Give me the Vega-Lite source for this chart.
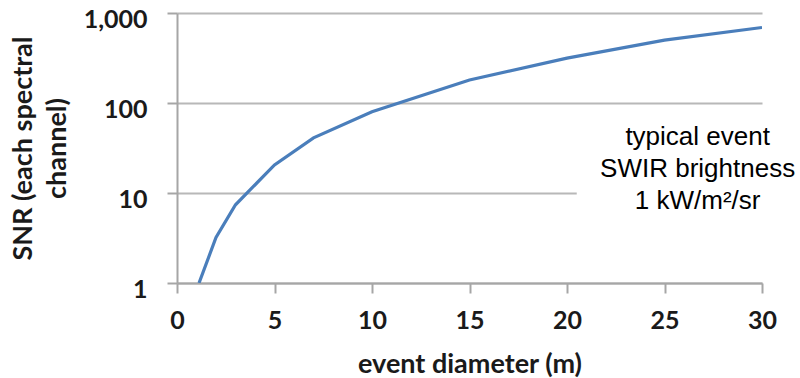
{
  "$schema": "https://vega.github.io/schema/vega-lite/v6.json",
  "autosize": "none",
  "width": 585,
  "height": 270,
  "padding": {"left": 177, "top": 13, "right": 38, "bottom": 95},
  "background": "white",
  "config": {
    "view": {"stroke": null},
    "axis": {
      "labelFont": "Lato",
      "labelFontWeight": "bold",
      "labelFontSize": 25,
      "labelColor": "#1a1a1a",
      "labelFlush": false,
      "titleFont": "Lato",
      "titleFontWeight": "bold",
      "titleFontSize": 27,
      "titleColor": "#1a1a1a",
      "domainColor": "#a6a6a6",
      "domainWidth": 2,
      "tickColor": "#a6a6a6",
      "tickWidth": 2,
      "tickSize": 10,
      "gridColor": "#b8b8b8",
      "gridWidth": 2
    }
  },
  "layer": [
    {
      "data": {"values": [
        {"d": 1.13, "snr": 1},
        {"d": 2, "snr": 3.2},
        {"d": 3, "snr": 7.4},
        {"d": 5, "snr": 20.5},
        {"d": 7, "snr": 41},
        {"d": 10, "snr": 80},
        {"d": 15, "snr": 180},
        {"d": 20, "snr": 315},
        {"d": 25, "snr": 500},
        {"d": 30, "snr": 690}
      ]},
      "mark": {"type": "line", "color": "#4a7ebb", "strokeWidth": 3.2, "clip": true},
      "encoding": {
        "x": {
          "field": "d", "type": "quantitative",
          "scale": {"domain": [0, 30], "nice": false},
          "axis": {"values": [0, 5, 10, 15, 20, 25, 30], "grid": false, "title": "event diameter (m)", "labelPadding": 15, "titlePadding": 18}
        },
        "y": {
          "field": "snr", "type": "quantitative",
          "scale": {"type": "log", "domain": [1, 1000], "nice": false},
          "axis": {"values": [1, 10, 100, 1000], "format": ",d", "grid": true, "title": ["SNR (each spectral", "channel)"], "labelPadding": 20, "labelOffset": 6, "titlePadding": 12, "titleLineHeight": 34}
        }
      }
    },
    {
      "data": {"values": [{"x1": 20.5, "x2": 32, "y1": 2, "y2": 60}]},
      "mark": {"type": "rect", "color": "white", "clip": false},
      "encoding": {
        "x": {"field": "x1", "type": "quantitative"},
        "x2": {"field": "x2"},
        "y": {"field": "y1", "type": "quantitative"},
        "y2": {"field": "y2"}
      }
    },
    {
      "data": {"values": [{"x": 26.7, "y": 42, "label": ["typical event", "SWIR brightness", "1 kW/m²/sr"]}]},
      "mark": {"type": "text", "font": "Liberation Sans", "fontSize": 26, "lineHeight": 32, "align": "center", "baseline": "middle", "color": "#000000", "clip": false},
      "encoding": {
        "x": {"field": "x", "type": "quantitative"},
        "y": {"field": "y", "type": "quantitative"},
        "text": {"field": "label"}
      }
    }
  ]
}
